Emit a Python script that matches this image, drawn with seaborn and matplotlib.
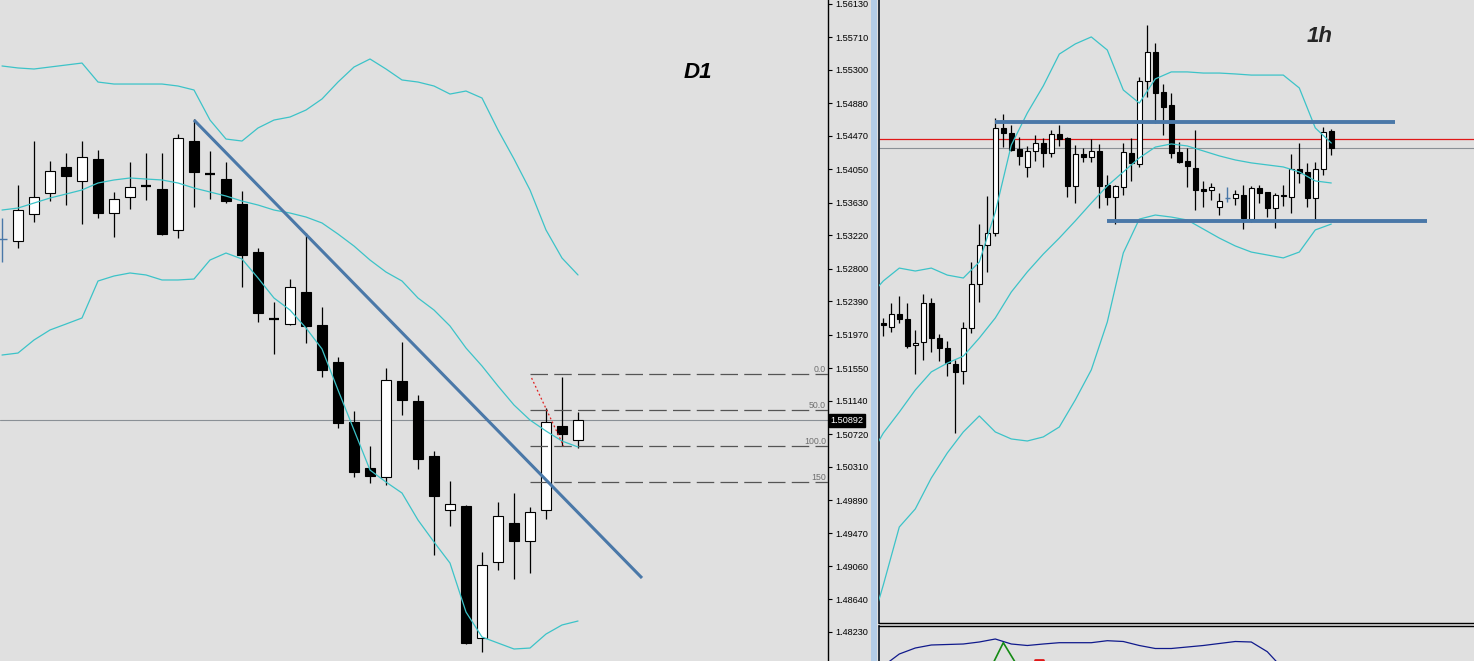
import matplotlib
matplotlib.use("Agg")
import matplotlib.pyplot as plt
import matplotlib.transforms as mtransforms
from matplotlib.patches import Rectangle
import seaborn as sns

# ---- D1 bars (index -1 is the blue marker bar at the left edge) ----
d1_idx = list(range(-1, 36))
d1_open = [1.53173, 1.53148, 1.53488, 1.53752, 1.54079, 1.53903, 1.54180, 1.53500, 1.53702,
           1.53840, 1.53802, 1.53287, 1.54406, 1.53991, 1.53928, 1.53614, 1.53010, 1.52167,
           1.52104, 1.52507, 1.52092, 1.51626, 1.50871, 1.50293, 1.50179, 1.51387, 1.51135,
           1.50444, 1.49764, 1.49815, 1.48154, 1.49110, 1.49601, 1.49374, 1.49764, 1.50821,
           1.50645]
d1_high = [1.53438, 1.53853, 1.54406, 1.54155, 1.54255, 1.54406, 1.54293, 1.53765, 1.54142,
           1.54255, 1.54255, 1.54494, 1.54683, 1.54280, 1.54142, 1.53777, 1.53060, 1.52381,
           1.52670, 1.53249, 1.52318, 1.51689, 1.51010, 1.50569, 1.51551, 1.51878, 1.51211,
           1.50506, 1.50129, 1.49827, 1.49236, 1.49865, 1.49978, 1.49802, 1.51047, 1.51437,
           1.50997]
d1_low = [1.52884, 1.53060, 1.53387, 1.53651, 1.53601, 1.53362, 1.53438, 1.53199, 1.53551,
          1.53664, 1.53224, 1.53186, 1.53576, 1.53677, 1.53626, 1.52570, 1.52129, 1.51727,
          1.52092, 1.51865, 1.51437, 1.50796, 1.50179, 1.50104, 1.50079, 1.50959, 1.50280,
          1.49198, 1.49563, 1.48078, 1.47978, 1.49009, 1.48896, 1.48972, 1.49651, 1.50569,
          1.50544]
d1_close = [1.53173, 1.53538, 1.53702, 1.54029, 1.53966, 1.54205, 1.53500, 1.53677, 1.53828,
            1.53840, 1.53236, 1.54444, 1.54016, 1.53991, 1.53651, 1.52972, 1.52242, 1.52167,
            1.52570, 1.52079, 1.51525, 1.50859, 1.50242, 1.50192, 1.51400, 1.51148, 1.50406,
            1.49940, 1.49840, 1.48091, 1.49072, 1.49689, 1.49374, 1.49739, 1.50871, 1.50720,
            1.50892]
d1_blue = [-1]

# Bollinger bands on D1, one value per bar
d1_upper = [1.55350, 1.55325, 1.55312, 1.55337, 1.55362, 1.55387, 1.55148, 1.55123, 1.55123,
            1.55123, 1.55123, 1.55098, 1.55048, 1.54670, 1.54431, 1.54406, 1.54570, 1.54670,
            1.54708, 1.54796, 1.54935, 1.55148, 1.55337, 1.55438, 1.55312, 1.55174, 1.55148,
            1.55098, 1.54997, 1.55035, 1.54947, 1.54545, 1.54180, 1.53790, 1.53287, 1.52934,
            1.52721]
d1_mid = [1.53538, 1.53563, 1.53626, 1.53689, 1.53739, 1.53790, 1.53878, 1.53916, 1.53941,
          1.53928, 1.53916, 1.53878, 1.53815, 1.53765, 1.53714, 1.53651, 1.53601, 1.53538,
          1.53500, 1.53450, 1.53375, 1.53236, 1.53085, 1.52909, 1.52758, 1.52645, 1.52431,
          1.52280, 1.52079, 1.51802, 1.51576, 1.51324, 1.51085, 1.50896, 1.50758, 1.50632,
          1.50557]
d1_lower = [1.51714, 1.51739, 1.51903, 1.52029, 1.52104, 1.52180, 1.52645, 1.52708, 1.52746,
            1.52721, 1.52658, 1.52658, 1.52670, 1.52909, 1.52997, 1.52922, 1.52683, 1.52431,
            1.52280, 1.52054, 1.51790, 1.51274, 1.50771, 1.50267, 1.50116, 1.49978, 1.49638,
            1.49362, 1.49097, 1.48481, 1.48167, 1.48091, 1.48016, 1.48028, 1.48204, 1.48318,
            1.48368]

d1_ticks = [1.56130, 1.55710, 1.55300, 1.54880, 1.54470, 1.54050, 1.53630, 1.53220, 1.52800,
            1.52390, 1.51970, 1.51550, 1.51140, 1.50720, 1.50310, 1.49890, 1.49470, 1.49060,
            1.48640, 1.48230]
bid_price = 1.50892

trend_x = [11, 39]
trend_y = [1.54670, 1.48909]
fib_high = 1.51481
fib_low = 1.50569
fib_levels = [0, 50, 100, 150]
fib_labels = ["0.0", "50.0", "100.0", "150"]
fib_start = 32
fib_diag_x = [32.1, 34.1]
fib_diag_y = [1.51425, 1.50569]

# ---- 1h bars ----
h1_open = [1.50118, 1.50100, 1.50155, 1.50133, 1.50018, 1.50031, 1.50204, 1.50049, 1.50005,
           1.49934, 1.49904, 1.50093, 1.50288, 1.50461, 1.50514, 1.50979, 1.50957, 1.50886,
           1.50806, 1.50880, 1.50913, 1.50868, 1.50953, 1.50935, 1.50725, 1.50865, 1.50853,
           1.50877, 1.50728, 1.50676, 1.50718, 1.50868, 1.50821, 1.51189, 1.51316, 1.51141,
           1.51082, 1.50876, 1.50836, 1.50805, 1.50709, 1.50705, 1.50629, 1.50669, 1.50669,
           1.50684, 1.50577, 1.50713, 1.50696, 1.50625, 1.50684, 1.50676, 1.50798, 1.50787,
           1.50672, 1.50798, 1.50967]
h1_high = [1.50138, 1.50204, 1.50236, 1.50204, 1.50086, 1.50245, 1.50226, 1.50068, 1.50038,
           1.49953, 1.50122, 1.50386, 1.50555, 1.50679, 1.51024, 1.51043, 1.50994, 1.50942,
           1.50901, 1.50950, 1.50935, 1.50972, 1.50994, 1.50942, 1.50905, 1.50892, 1.50930,
           1.50908, 1.50772, 1.50728, 1.50913, 1.50935, 1.51205, 1.51437, 1.51356, 1.51176,
           1.51134, 1.50920, 1.50891, 1.50972, 1.50746, 1.50738, 1.50694, 1.50720, 1.50706,
           1.50728, 1.50725, 1.50728, 1.50698, 1.50694, 1.50728, 1.50864, 1.50913, 1.50824,
           1.50831, 1.50984, 1.50976]
h1_low = [1.50059, 1.50078, 1.50115, 1.50007, 1.49891, 1.49953, 1.49990, 1.49950, 1.49883,
          1.49631, 1.49846, 1.50071, 1.50211, 1.50344, 1.50503, 1.50898, 1.50880, 1.50817,
          1.50762, 1.50836, 1.50809, 1.50851, 1.50901, 1.50674, 1.50647, 1.50831, 1.50831,
          1.50627, 1.50639, 1.50555, 1.50684, 1.50747, 1.50806, 1.51117, 1.51001, 1.50950,
          1.50846, 1.50824, 1.50718, 1.50617, 1.50629, 1.50662, 1.50595, 1.50654, 1.50639,
          1.50532, 1.50565, 1.50647, 1.50588, 1.50536, 1.50636, 1.50605, 1.50736, 1.50632,
          1.50565, 1.50772, 1.50861]
h1_close = [1.50107, 1.50155, 1.50136, 1.50016, 1.50028, 1.50204, 1.50049, 1.50005, 1.49938,
            1.49901, 1.50093, 1.50288, 1.50461, 1.50514, 1.50979, 1.50957, 1.50883, 1.50858,
            1.50880, 1.50915, 1.50868, 1.50953, 1.50930, 1.50725, 1.50864, 1.50853, 1.50877,
            1.50725, 1.50676, 1.50724, 1.50873, 1.50824, 1.51189, 1.51319, 1.51137, 1.51075,
            1.50868, 1.50831, 1.50814, 1.50706, 1.50702, 1.50718, 1.50658, 1.50669, 1.50687,
            1.50583, 1.50713, 1.50694, 1.50625, 1.50684, 1.50678, 1.50798, 1.50783, 1.50672,
            1.50798, 1.50964, 1.50892]
h1_blue = [43]

h1_band_idx = [-1, 0, 2, 4, 6, 8, 10, 12, 14, 16, 18, 20, 22, 24, 26, 28, 30, 32, 34, 36,
               38, 40, 42, 44, 46, 48, 50, 52, 54, 56]
h1_upper = [1.50263, 1.50303, 1.50360, 1.50347, 1.50360, 1.50329, 1.50316, 1.50387, 1.50608,
            1.50905, 1.51047, 1.51167, 1.51308, 1.51353, 1.51384, 1.51326, 1.51149, 1.51091,
            1.51198, 1.51229, 1.51229, 1.51224, 1.51224, 1.51220, 1.51215, 1.51215, 1.51215,
            1.51158, 1.50981, 1.50914]
h1_mid = [1.49567, 1.49629, 1.49722, 1.49820, 1.49900, 1.49939, 1.49970, 1.50050, 1.50139,
          1.50254, 1.50343, 1.50422, 1.50493, 1.50569, 1.50648, 1.50724, 1.50786, 1.50848,
          1.50896, 1.50910, 1.50901, 1.50879, 1.50857, 1.50839, 1.50826, 1.50817, 1.50808,
          1.50786, 1.50746, 1.50737]
h1_lower = [1.48836, 1.48956, 1.49213, 1.49293, 1.49430, 1.49541, 1.49634, 1.49705, 1.49634,
            1.49603, 1.49594, 1.49612, 1.49656, 1.49776, 1.49909, 1.50121, 1.50427, 1.50577,
            1.50595, 1.50586, 1.50573, 1.50533, 1.50493, 1.50458, 1.50431, 1.50418, 1.50405,
            1.50431, 1.50529, 1.50555]

res_level, res_span = 1.51007, [14, 64]
sup_level, sup_span = 1.50569, [28, 68]
red_level = 1.50932

# oscillator sub-window (only its top strip is visible)
osc_idx = [0, 2, 4, 6, 8, 10, 12, 14, 16, 18, 20, 22, 24, 26, 28, 30, 32, 34, 36, 38, 40,
           42, 44, 46, 48, 50]
osc_main = [-5, 7, 13, 16, 16.5, 17, 19, 22, 17, 15.5, 17, 18.3, 18.3, 18.3, 20.3, 19.5,
            15.5, 12.5, 12.5, 14, 15.5, 17.5, 19.5, 19, 9.3, -8]
osc_sig_idx = [13, 15, 17]
osc_sig = [-14, 18.3, -8]

# ---- style ----
BG = "#e0e0e0"
BAND = "#3cc3c8"
STEEL = "#4a78a8"
W, H = 1474, 661

sns.set_style("white")
plt.rcParams["font.family"] = ["Liberation Sans", "DejaVu Sans"]


def draw_candles(ax, idx, o, h, l, c, width, blue):
    for i, oo, hh, ll, cc in zip(idx, o, h, l, c):
        if i in blue:
            ax.vlines(i, ll, hh, color=STEEL, lw=1.0, zorder=2)
            ax.hlines(cc, i - width / 2, i + width / 2, color=STEEL, lw=1.0, zorder=2)
            continue
        ax.vlines(i, ll, hh, color="black", lw=0.9, zorder=2)
        if oo == cc:
            ax.hlines(cc, i - width / 2, i + width / 2, color="black", lw=1.6, zorder=3)
        else:
            ax.bar(i, abs(cc - oo), bottom=min(oo, cc), width=width,
                   facecolor="white" if cc > oo else "black",
                   edgecolor="black", linewidth=0.8, zorder=3)


fig = plt.figure(figsize=(W / 100, H / 100), dpi=100, facecolor=BG)

# ---------------- D1 panel ----------------
ax = fig.add_axes([0, 0, 828 / W, 1])
ax.set_facecolor(BG)
draw_candles(ax, d1_idx, d1_open, d1_high, d1_low, d1_close, 0.66, d1_blue)
for band in (d1_upper, d1_mid, d1_lower):
    sns.lineplot(x=d1_idx, y=band, ax=ax, color=BAND, lw=0.9, zorder=4)

ax.plot(trend_x, trend_y, color=STEEL, lw=2.2, zorder=5, solid_capstyle="butt")
ax.axhline(bid_price, color="#8a9096", lw=0.8, zorder=1)

rng = fib_high - fib_low
for lev, lab in zip(fib_levels, fib_labels):
    y = fib_high - lev / 100 * rng
    ax.plot([fib_start, 60], [y, y], color="#555555", lw=0.9, dashes=(14, 5), zorder=4)
    ax.text(826 / 828, y, lab, transform=mtransforms.blended_transform_factory(ax.transAxes, ax.transData),
            ha="right", va="bottom", fontsize=6.3, color="#707070")
ax.plot(fib_diag_x, fib_diag_y, color="#e02020", lw=0.9, ls=(0, (1.5, 2)), zorder=5)

ax.set_xlim(-1.125, 50.625)
ax.set_ylim(1.47865, 1.56180)
ax.set_xticks([])
ax.yaxis.tick_right()
ax.set_yticks(d1_ticks)
ax.set_yticklabels([f"{t:.5f}" for t in d1_ticks])
ax.tick_params(axis="y", direction="out", length=3, width=0.8, pad=2, labelsize=6.6,
               colors="black", right=True, left=False)
ax.set_xlabel("")
ax.set_ylabel("")
for s in ("left", "top", "bottom"):
    ax.spines[s].set_visible(False)
ax.spines["right"].set_color("black")
ax.spines["right"].set_linewidth(1.0)

ax.text(1.003, bid_price, f"{bid_price:.5f}",
        transform=mtransforms.blended_transform_factory(ax.transAxes, ax.transData),
        ha="left", va="center", fontsize=6.6, color="white", zorder=10, clip_on=False,
        bbox=dict(boxstyle="square,pad=0.2", fc="black", ec="black"))
ax.text(698 / 828, 1 - 73 / H, "D1", transform=ax.transAxes, ha="center", va="center",
        fontsize=16, fontweight="bold", fontstyle="italic", color="black")

# separator between windows
fig.patches.append(Rectangle((871.5 / W, 0), 6 / W, 1, transform=fig.transFigure,
                             fc="#b3cde8", ec="none", zorder=0))

# ---------------- 1h panel ----------------
ax2 = fig.add_axes([879 / W, (H - 623) / H, (W - 879) / W, 623 / H])
ax2.set_facecolor(BG)
h1_idx = list(range(len(h1_open)))
draw_candles(ax2, h1_idx, h1_open, h1_high, h1_low, h1_close, 0.6, h1_blue)
for band in (h1_upper, h1_mid, h1_lower):
    sns.lineplot(x=h1_band_idx, y=band, ax=ax2, color=BAND, lw=0.9, zorder=4)
ax2.axhline(red_level, color="#e01818", lw=0.9, zorder=1)
ax2.axhline(bid_price, color="#8a9096", lw=0.8, zorder=1)
ax2.plot(res_span, [res_level, res_level], color=STEEL, lw=2.8, zorder=5, solid_capstyle="butt")
ax2.plot(sup_span, [sup_level, sup_level], color=STEEL, lw=2.8, zorder=5, solid_capstyle="butt")
ax2.set_xlim(-0.5375, 73.84)
ax2.set_ylim(1.487877, 1.515476)
ax2.set_xticks([])
ax2.set_yticks([])
ax2.set_xlabel("")
ax2.set_ylabel("")
for s in ("top", "right"):
    ax2.spines[s].set_visible(False)
ax2.spines["left"].set_color("#1a2430")
ax2.spines["left"].set_linewidth(1.3)
ax2.spines["bottom"].set_color("black")
ax2.spines["bottom"].set_linewidth(1.0)
ax2.text((1320 - 879) / (W - 879), 1 - 36 / 623, "1h", transform=ax2.transAxes,
         ha="center", va="center", fontsize=16, fontweight="bold", fontstyle="italic")

# ---------------- oscillator strip ----------------
ax3 = fig.add_axes([879 / W, 0, (W - 879) / W, (H - 626) / H])
ax3.set_facecolor(BG)
sns.lineplot(x=osc_idx, y=osc_main, ax=ax3, color="#101a8c", lw=0.9)
sns.lineplot(x=osc_sig_idx, y=osc_sig, ax=ax3, color="#138a13", lw=1.2)
ax3.plot([19, 20], [1, 1], color="#e01818", lw=2)
ax3.set_xlim(-0.5375, 73.84)
ax3.set_ylim(0, 35)
ax3.set_xticks([])
ax3.set_yticks([])
ax3.set_xlabel("")
ax3.set_ylabel("")
for s in ("bottom", "right"):
    ax3.spines[s].set_visible(False)
ax3.spines["left"].set_color("#1a2430")
ax3.spines["left"].set_linewidth(1.3)
ax3.spines["top"].set_color("black")
ax3.spines["top"].set_linewidth(1.0)

fig.savefig("out.png", dpi=100, facecolor=fig.get_facecolor())
